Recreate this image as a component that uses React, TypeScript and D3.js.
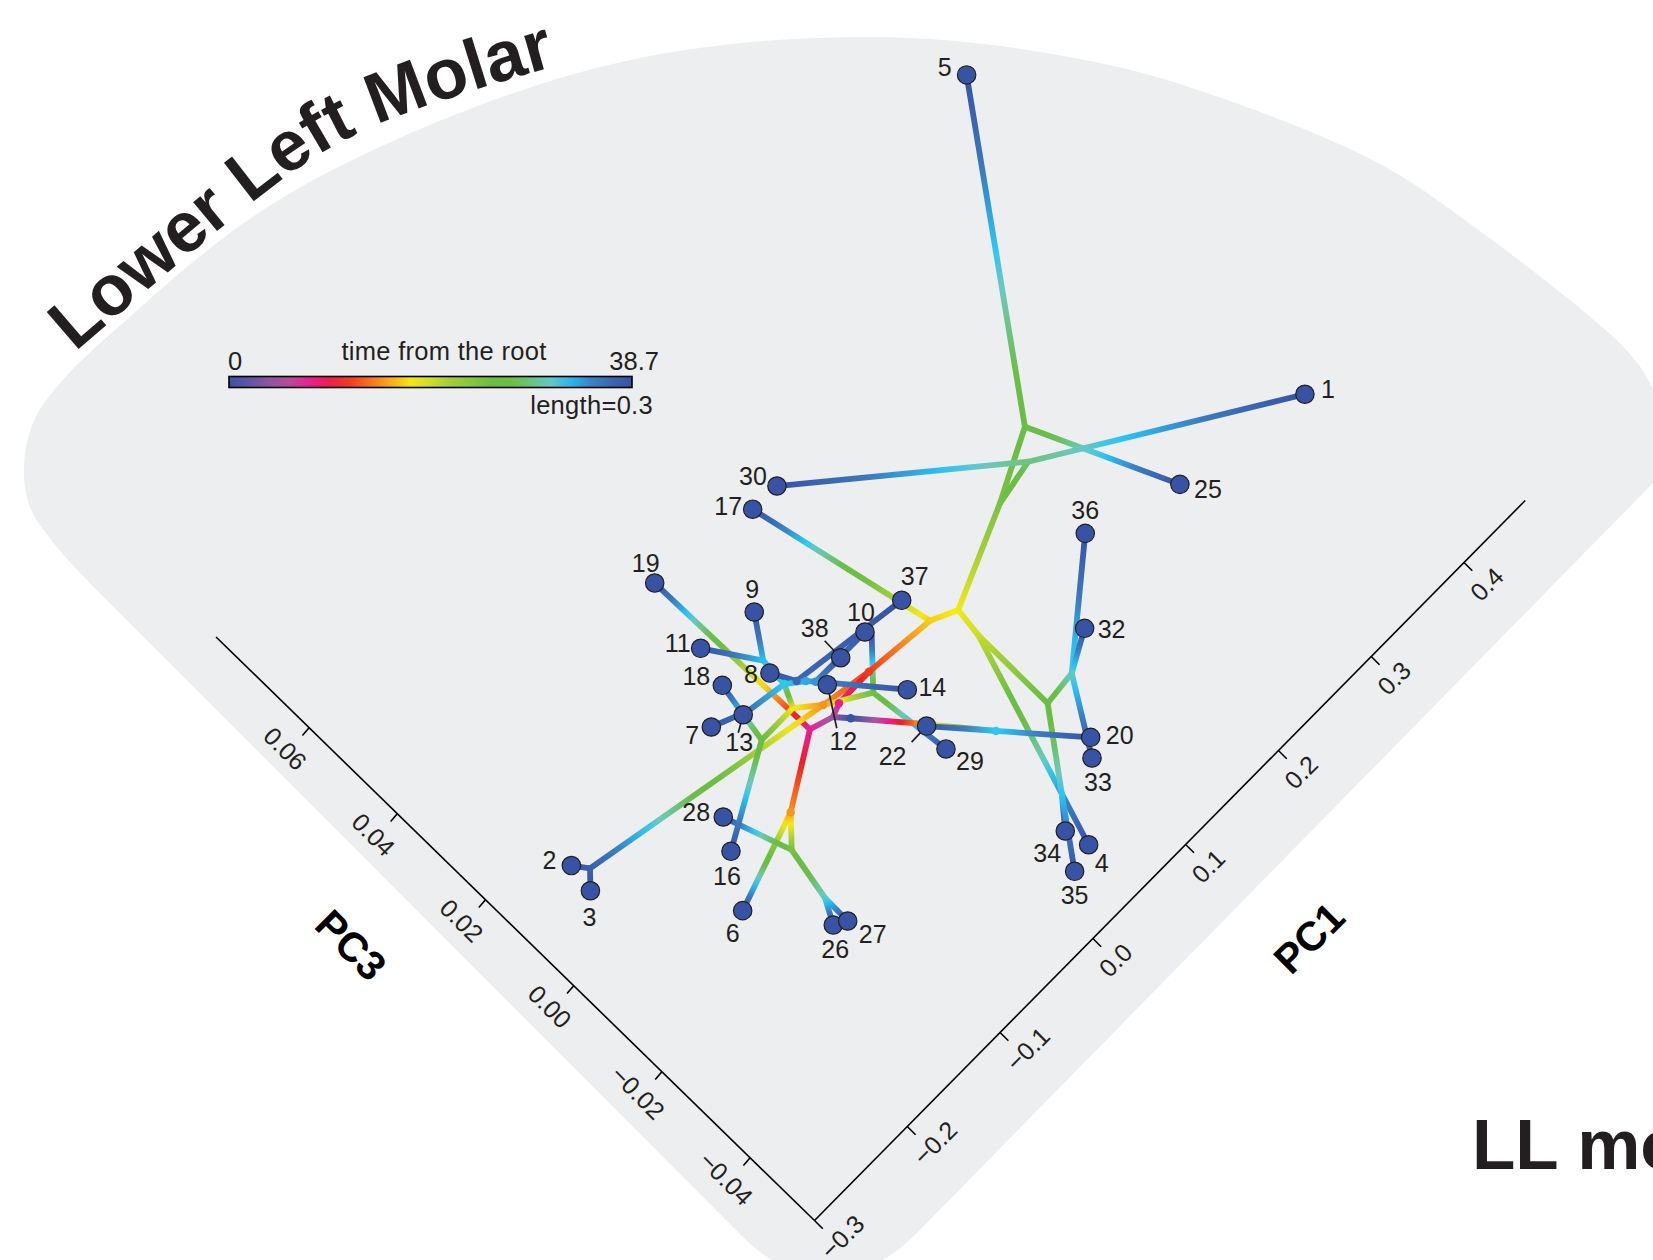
import * as d3 from "d3"

// tips of the tree, all at the end of the time scale
const tipIds = ["1","2","3","4","5","6","7","8","9","10","11","12","13","14","16","17","18","19","20","22","25","26","27","28","29","30","32","33","34","35","36","37","38"]
const tipPC1 = [0.4071,-0.2361,-0.2397,0.0486,0.4014,-0.17,-0.087,-0.0268,-0.002,0.0457,-0.05,-0.0028,-0.0635,0.0368,-0.144,0.0529,-0.0586,-0.0389,0.1079,0.0273,0.2922,-0.1299,-0.1201,-0.1295,0.0251,0.0783,0.1638,0.0974,0.0437,0.0268,0.2156,0.0823,0.0189]
const tipPC3 = [-0.01703,0.01398,0.0089,-0.04342,0.05848,-0.01096,0.01361,0.01299,0.02177,0.00669,0.02382,0.00503,0.01132,-0.00478,-0.00284,0.03367,0.01709,0.03657,-0.0314,-0.01116,-0.01286,-0.02307,-0.02428,0.00196,-0.01601,0.03351,-0.01827,-0.03391,-0.03915,-0.04483,-0.00751,0.00606,0.00656]
const tipTime = 38.7

// ancestors of the tree
const innerIds = ["R","A","P","B","C","D","E","F","G","H","I","K","O","S","L","M","N","Q","Z","Q2","Q3","Q4","Aa","Bb","Cc","Dd","V","W","Y","U","X"]
const innerPC1 = [-0.0086,-0.0173,-0.0361,-0.0067,0.0263,-0.0159,0.0862,0.0172,-0.0336,-0.0675,-0.2277,-0.0252,-0.0236,-0.059,-0.017,-0.0121,-0.0073,0.0235,0.0613,-0.0913,-0.1112,-0.1196,0.1069,0.1868,0.2415,0.2243,0.1039,0.1036,0.1326,0.0624,0.0476]
const innerPC3 = [-0.0015,0.00069,0.00195,0.00156,0.0017,0.00318,0.00047,-0.00119,0.00634,0.0063,0.01151,0.01008,0.01517,0.01119,0.009,0.00792,0.00672,-0.0097,-0.01974,-0.00529,-0.00971,-0.01903,-0.00158,0.00577,0.01162,0.00725,-0.00675,-0.02255,-0.02191,-0.0344,0.00557]
const innerTime = [0,4.6,7.7,8,11.6,14.7,16.6,24.8,17.8,25.5,37.5,32,32.5,35.6,36.8,33.3,34,13.9,32,14.7,24,31,17.8,24,25.5,29,19.4,25.5,31,32,38.7]
const dotIds = ["R","B","C","D","K","L","M","N","Z","Q2"]

const edges = [
  ["R","A"],["A","P"],["P","Q2"],["Q2","6"],["Q2","Q3"],["Q3","28"],["Q3","Q4"],["Q4","27"],["Q4","26"],
  ["P","19"],["E","17"],["E","Aa"],["Aa","Bb"],["Bb","Cc"],["Cc","5"],["Cc","25"],["Bb","Dd"],["Dd","1"],["Dd","30"],
  ["Aa","V"],["V","W"],["V","4"],["W","Y"],["W","U"],["U","34"],["U","35"],["Y","36"],["Y","32"],["Y","33"],
  ["D","I"],["I","2"],["I","3"],["G","H"],["H","16"],["H","18"],
  ["F","29"],["F","X"],["C","E"],["C","D"],["A","B"],["B","C"],["D","F"],["D","G"],
  ["G","K"],["K","O"],["O","9"],["O","11"],["K","S"],["S","13"],["S","7"],
  ["K","L"],["L","8"],["L","37"],["K","M"],["M","N"],["N","10"],["N","38"],["N","12"],["N","14"],
  ["R","Q"],["Q","Z"],["Z","20"],["Z","22"],
]

const timeStops = [0,5.2,8,10.6,14.1,17.6,21.1,25,27.5,30.7,32.3,35.2,38.7]
const timeColors = ["#3953a4","#a8559f","#ec1c8f","#ed2024","#f58220","#f6eb14","#a6ce39","#6cbd45","#6cbd45","#6dc8bf","#29c4f4","#3b78bc","#3953a4"]

const pc1Ticks = [-0.3,-0.2,-0.1,0,0.1,0.2,0.3,0.4]
const pc3Ticks = [-0.04,-0.02,0,0.02,0.04,0.06]

const ink = "#231f20"
const sans = "'Liberation Sans', Arial, sans-serif"

// where each tip's number sits, relative to its dot
const labelOffset: Record<string, [number, number]> = {
  "1":[23,-5],"2":[-22,-5.5],"3":[-1,26],"4":[13,19],"5":[-22,-8],"6":[-10,23],"7":[-19,8],"8":[-19,1],"9":[-2,-23],
  "10":[-4,-19.5],"11":[-23,-5],"12":[16,57],"13":[-4,28],"14":[25,-2],"16":[-4,25],"17":[-24.5,-3],"18":[-26,-9],
  "19":[-9,-20],"20":[29,-2],"22":[-34,30],"25":[28,5],"26":[2,24],"27":[25,13],"28":[-27,-5],"29":[24,12],
  "30":[-24,-9.5],"32":[27,1],"33":[6,24],"34":[-18,22],"35":[0,24],"36":[0,-23],"37":[13,-24],"38":[-26,-29],
}
const leaders: Record<string, [number, number]> = { "38":[-16,-17], "12":[9.5,43.5], "13":[-5,18], "22":[-15,16] }

// the two axes leave the same corner of the page
const corner = { x: 814.5, y: 1220.5 }
const pc1Min = -0.3, pc1Max = 0.466
const pc3Min = -0.0546, pc3Max = 0.0811
const pc1X = d3.scaleLinear().domain([-0.3, 0.4]).range([0, 649.5])
const pc1Y = d3.scaleLinear().domain([-0.3, 0.4]).range([0, -658])
const pc3X = d3.scaleLinear().domain([pc3Min, pc3Min + 0.1]).range([0, -441])
const pc3Y = d3.scaleLinear().domain([pc3Min, pc3Min + 0.1]).range([0, -430])
const px = (pc1: number, pc3: number) => corner.x + pc1X(pc1) + pc3X(pc3)
const py = (pc1: number, pc3: number) => corner.y + pc1Y(pc1) + pc3Y(pc3)

const color = d3.scaleLinear<string>().domain(timeStops).range(timeColors).interpolate(d3.interpolateRgb)

type TreeNode = { x: number; y: number; t: number }
const nodes = new Map<string, TreeNode>()
tipIds.forEach((id, i) => nodes.set(id, { x: px(tipPC1[i], tipPC3[i]), y: py(tipPC1[i], tipPC3[i]), t: tipTime }))
innerIds.forEach((id, i) => nodes.set(id, { x: px(innerPC1[i], innerPC3[i]), y: py(innerPC1[i], innerPC3[i]), t: innerTime[i] }))

const lineGen = d3.line().curve(d3.curveCatmullRom)
const topEdge = lineGen([[126.7,620],[56.7,546.7],[30,507],[24,467],[33,423],[56.7,387],[115,330],[287,195],[600,67],[875,37],[1100,63],[1241,105],[1382,165],[1488,237],[1594,320],[1629,353],[1650,383],[1664,430],[1653,483]] as [number, number][])
const backdrop = `${topEdge} L917,1233 C860,1290 795,1290 743,1237 Z`
const titleArc = d3.line().curve(d3.curveNatural)([[75,352],[255.6,200],[384.6,121.7],[547,68.3],[640,45]] as [number, number][]) as string

const gradientStops = (t0: number, t1: number) =>
  d3.range(0, 1.0001, 0.05).map((f) => (
    <stop key={f} offset={f} stopColor={color(t0 + (t1 - t0) * f)} />
  ))

export default function App() {
  return (
    <svg width={1653} height={1260} style={{ position: "absolute", left: 0, top: 0, display: "block", background: "#fff" }} fontFamily={sans}>
      <defs>
        <linearGradient id="legend-bar">{gradientStops(0, tipTime)}</linearGradient>
        {edges.map(([a, b], i) => {
          const s = nodes.get(a)!, e = nodes.get(b)!
          return (
            <linearGradient key={i} id={`edge-${i}`} gradientUnits="userSpaceOnUse" x1={s.x} y1={s.y} x2={e.x} y2={e.y}>
              {gradientStops(s.t, e.t)}
            </linearGradient>
          )
        })}
        <path id="title-arc" d={titleArc} />
      </defs>

      <path d={backdrop} fill="#edeef0" />

      <text fontSize={71} fontWeight="bold" fill={ink}>
        <textPath href="#title-arc">Lower Left Molar</textPath>
      </text>
      <text x={1472} y={1169} fontSize={71} fontWeight="bold" fill={ink}>LL molar</text>

      {/* axes */}
      <g stroke="#000" strokeWidth={1.6}>
        <line x1={px(pc1Min, pc3Min)} y1={py(pc1Min, pc3Min)} x2={px(pc1Max, pc3Min)} y2={py(pc1Max, pc3Min)} />
        <line x1={px(pc1Min, pc3Min)} y1={py(pc1Min, pc3Min)} x2={px(pc1Min, pc3Max)} y2={py(pc1Min, pc3Max)} />
        {pc1Ticks.map((v) => {
          const x = px(v, pc3Min), y = py(v, pc3Min)
          return <line key={v} x1={x} y1={y} x2={x + 8.3} y2={y + 8.3} />
        })}
        {pc3Ticks.map((v) => {
          const x = px(pc1Min, v), y = py(pc1Min, v)
          return <line key={v} x1={x} y1={y} x2={x - 6.7} y2={y + 7.7} />
        })}
      </g>
      <g fontSize={25} fill={ink}>
        {pc1Ticks.map((v) => {
          const x = px(v, pc3Min) + 10.5, y = py(v, pc3Min) + 34
          return <text key={v} x={x} y={y} dy="0.35em" transform={`rotate(-45 ${x} ${y})`}>{d3.format(".1f")(v)}</text>
        })}
        {pc3Ticks.map((v) => {
          const x = px(pc1Min, v) - 24, y = py(pc1Min, v) + 21
          return <text key={v} x={x} y={y} dy="0.35em" textAnchor="middle" transform={`rotate(45 ${x} ${y})`}>{d3.format(".2f")(v)}</text>
        })}
      </g>
      <text x={1309} y={938} dy="0.35em" textAnchor="middle" fontSize={41} fontWeight="bold" fill="#000" transform="rotate(-45 1309 938)">PC1</text>
      <text x={351} y={945} dy="0.35em" textAnchor="middle" fontSize={41} fontWeight="bold" fill="#000" transform="rotate(45 351 945)">PC3</text>

      {/* legend */}
      <rect x={229} y={376.5} width={403} height={11} fill="url(#legend-bar)" stroke="#000" strokeWidth={1.6} />
      <g fontSize={25.5} fill={ink}>
        <text x={228} y={370}>0</text>
        <text x={444} y={360} textAnchor="middle" letterSpacing={0.3}>time from the root</text>
        <text x={659} y={370} textAnchor="end">{tipTime}</text>
        <text x={653} y={414} textAnchor="end" letterSpacing={0.3}>length=0.3</text>
      </g>

      {/* tree */}
      <g fill="none" strokeWidth={5.8} strokeLinecap="round">
        {edges.map(([a, b], i) => {
          const s = nodes.get(a)!, e = nodes.get(b)!
          return <line key={i} x1={s.x} y1={s.y} x2={e.x} y2={e.y} stroke={`url(#edge-${i})`} />
        })}
      </g>
      {dotIds.map((id) => {
        const n = nodes.get(id)!
        return <circle key={id} cx={n.x} cy={n.y} r={4.2} fill={color(n.t)} />
      })}
      {tipIds.filter((id) => leaders[id]).map((id) => {
        const n = nodes.get(id)!
        return <line key={id} x1={n.x} y1={n.y} x2={n.x + leaders[id][0]} y2={n.y + leaders[id][1]} stroke={ink} strokeWidth={1.7} />
      })}
      {tipIds.map((id) => {
        const n = nodes.get(id)!
        return <circle key={id} cx={n.x} cy={n.y} r={9.2} fill={color(n.t)} stroke={ink} strokeWidth={1.2} />
      })}
      <g fontSize={25} fill={ink} textAnchor="middle">
        {tipIds.map((id) => {
          const n = nodes.get(id)!
          return <text key={id} x={n.x + labelOffset[id][0]} y={n.y + labelOffset[id][1]} dy="0.35em">{id}</text>
        })}
      </g>
    </svg>
  )
}
